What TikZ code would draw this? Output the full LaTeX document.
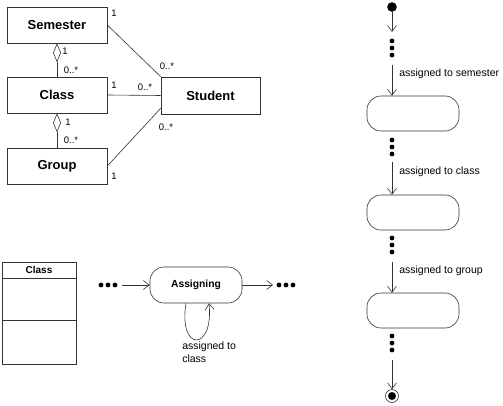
\documentclass[tikz,border=0pt]{standalone}
\usepackage{fontspec}
\setmainfont{Liberation Sans}
\usetikzlibrary{arrows.meta}
\begin{document}
\begin{tikzpicture}[x=1pt,y=-1pt,line width=0.6pt,
  ln/.style={draw=black!80},
  cls/.style={draw=black!80,minimum width=100pt,minimum height=36pt,inner sep=0pt,font=\bfseries\fontsize{13}{15}\selectfont},
  comp/.style={draw=black!80,minimum width=74pt,inner sep=0pt,outer sep=0pt,font=\bfseries\fontsize{10}{12}\selectfont},
  mult/.style={font=\fontsize{9.5}{10}\selectfont,inner sep=0.5pt},
  lbl/.style={font=\fontsize{10.5}{12.5}\selectfont,anchor=west,inner sep=0pt},
  statebox/.style={draw=black!80,rounded corners=14pt,minimum width=92pt,minimum height=35pt,inner sep=0pt},
  trans/.style={ln,-{Straight Barb[length=6pt,width=9pt]}},
  agg/.style={ln,{Diamond[open,length=19pt,width=8pt]}-},
  blob/.style={fill=black}]
\useasboundingbox (0,0) rectangle (503,406);

% class diagram
\node[cls] (sem) at (57,25) {Semester};
\node[cls] (cls) at (57,95) {Class};
\node[cls] (grp) at (57,166) {Group};
\node[cls,minimum width=99pt,minimum height=37pt] (stu) at (210.5,95.5) {Student};
\draw[agg] (sem.south) -- (cls.north);
\draw[agg] (cls.south) -- (grp.north);
\draw[ln] (sem.east) -- (stu.north west);
\draw[ln] (cls.east) -- (stu.west);
\draw[ln] (grp.east) -- ([yshift=6pt]stu.south west);
\node[mult] (m1) at (114,13) {1};
\node[mult] (m2) at (167,66) {0..*};
\node[mult] (m3) at (65,51) {1};
\node[mult] (m4) at (71,70) {0..*};
\node[mult] (m5) at (114,85) {1};
\node[mult] (m6) at (145,87) {0..*};
\node[mult] (m7) at (68,122) {1};
\node[mult] (m8) at (71,140) {0..*};
\node[mult] (m9) at (166,127) {0..*};
\node[mult] (m10) at (114,176) {1};

% class icon
\node[comp,minimum height=16pt] (cname) at (39,270) {Class};
\node[comp,minimum height=42pt,anchor=north] (cattr) at (cname.south) {};
\node[comp,minimum height=44pt,anchor=north] (cops) at (cattr.south) {};

% assigning state
\foreach \x in {101,108,115} \fill[blob] (\x,285) circle (2.4pt);
\coordinate (hin) at (122,285);
\node[statebox,minimum height=36pt,font=\bfseries\fontsize{10.3}{12}\selectfont] (asg) at (196,285) {Assigning};
\coordinate (hout) at (273,285);
\foreach \x in {279,286,293} \fill[blob] (\x,285) circle (2.4pt);
\draw[trans] (hin) -- (asg.west);
\draw[trans] (asg.east) -- (hout);
\draw[trans] ([xshift=-10pt]asg.south) .. controls (178,352) and (214,352) .. ([xshift=13pt]asg.south);
\node[lbl,anchor=north west,align=left] (loopl) at (182,342) {assigned to\\class};

% state sequence
\fill[blob] (392,7) circle (4.8pt);
\coordinate (init) at (392,12);
\coordinate (d0t) at (392,32);
\draw[trans] (init) -- (d0t);
\foreach \y in {41,48,55} \fill[blob] (392,\y) circle (2.4pt);
\coordinate (d0b) at (392,65);
\node[statebox] (s1) at (413,113.5) {};
\draw[trans] (d0b) -- (d0b |- s1.north);
\node[lbl] (t1) at (399,74) {assigned to semester};
\foreach \y in {140,147,154} \fill[blob] (392,\y) circle (2.4pt);
\coordinate (d1b) at (392,162);
\node[statebox] (s2) at (413,212.5) {};
\draw[trans] (d1b) -- (d1b |- s2.north);
\node[lbl] (t2) at (399,172) {assigned to class};
\foreach \y in {238,245,252} \fill[blob] (392,\y) circle (2.4pt);
\coordinate (d2b) at (392,262);
\node[statebox] (s3) at (413,310.5) {};
\draw[trans] (d2b) -- (d2b |- s3.north);
\node[lbl] (t3) at (399,271) {assigned to group};
\foreach \y in {336,343,350} \fill[blob] (392,\y) circle (2.4pt);
\coordinate (d3b) at (392,360);
\node[circle,draw=black!80,minimum size=13pt,inner sep=0pt] (fin) at (392,396) {};
\fill[blob] (fin.center) circle (4pt);
\draw[trans] (d3b) -- (fin.north);
\end{tikzpicture}
\end{document}
